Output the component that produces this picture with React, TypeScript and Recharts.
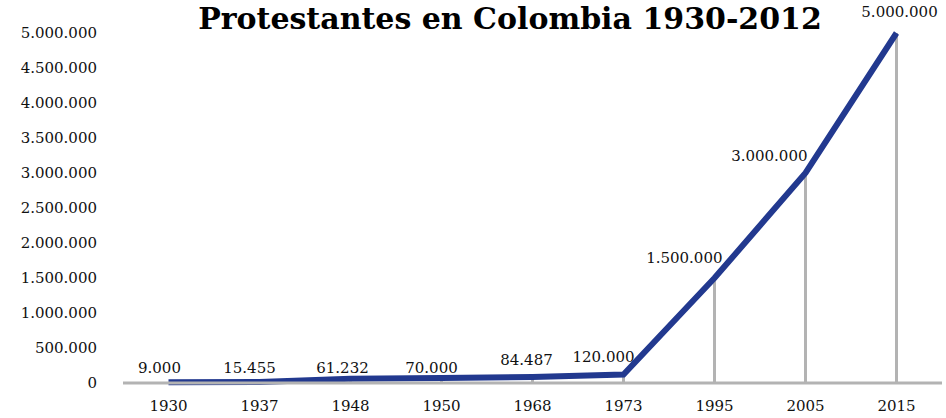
import { ComposedChart, Line, Bar, XAxis, YAxis, LabelList } from 'recharts';

const years = ['1930', '1937', '1948', '1950', '1968', '1973', '1995', '2005', '2015'];
const protestants = [9000, 15455, 61232, 70000, 84487, 120000, 1500000, 3000000, 5000000];
const yTicks = [0, 500000, 1000000, 1500000, 2000000, 2500000, 3000000, 3500000, 4000000, 4500000, 5000000];

const data = years.map((year, i) => ({ year, value: protestants[i] }));

// label nudges, per point (styling only)
const labelDx = [-9, -10, -8, -10, -6, -20, 8, 2, 3];
const labelDy = [-9, -9, -6, -5, -12, -13, -15, -12, -16];
const labelAnchor = ['middle', 'middle', 'middle', 'middle', 'middle', 'middle', 'end', 'end', 'middle'];

const FONT = '"DejaVu Serif", Georgia, serif';
const BLUE = '#22398f';
const GREY = '#b3b3b3';

const fmt = (v: number) => String(v).replace(/\B(?=(\d{3})+(?!\d))/g, '.');

const PointLabel = (props: any) => {
  const { x, y, value, index } = props;
  return (
    <text
      x={x + labelDx[index]}
      y={y + labelDy[index]}
      textAnchor={labelAnchor[index]}
      fontFamily={FONT}
      fontSize={15}
      fill="#111"
    >
      {fmt(value)}
    </text>
  );
};

export default function App() {
  return (
    <div style={{ position: 'absolute', left: 0, top: 0, width: 946, height: 418, background: '#fff' }}>
      <ComposedChart
        width={946}
        height={418}
        data={data}
        margin={{ top: 33, right: 4, bottom: 0, left: 0 }}
      >
        <text x={510} y={29} textAnchor="middle" fontFamily={FONT} fontWeight="bold" fontSize={30} fill="#000">
          Protestantes en Colombia 1930-2012
        </text>
        <XAxis
          dataKey="year"
          height={35}
          axisLine={{ stroke: GREY, strokeWidth: 3 }}
          tickLine={false}
          tickMargin={11}
          tick={{ fontFamily: FONT, fontSize: 15, fill: '#111' }}
        />
        <YAxis
          width={123}
          domain={[0, 5000000]}
          ticks={yTicks}
          axisLine={false}
          tickLine={false}
          tickMargin={20}
          tickFormatter={fmt}
          tick={{ fontFamily: FONT, fontSize: 15, fill: '#111' }}
        />
        <Bar dataKey="value" barSize={3} fill={GREY} isAnimationActive={false} />
        <Line
          type="linear"
          dataKey="value"
          stroke={BLUE}
          strokeWidth={6}
          dot={false}
          isAnimationActive={false}
        >
          <LabelList dataKey="value" content={PointLabel} />
        </Line>
      </ComposedChart>
    </div>
  );
}
